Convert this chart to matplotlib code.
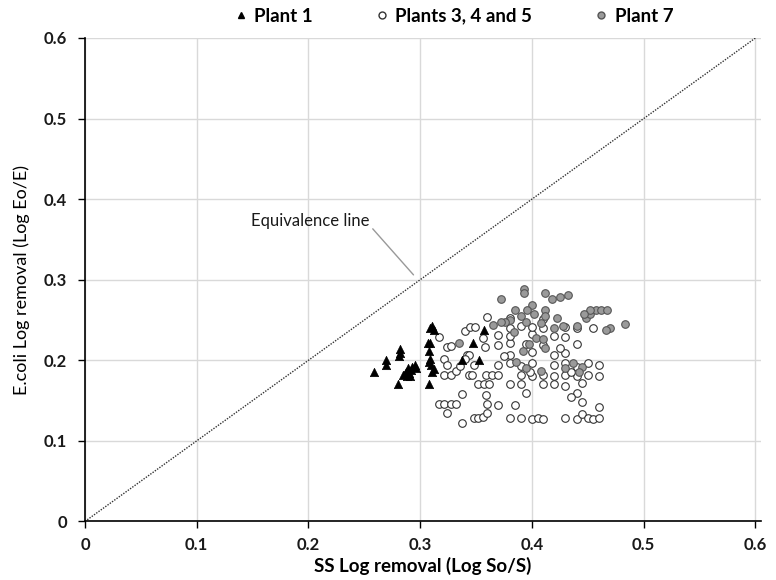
import matplotlib
matplotlib.use("Agg")
import matplotlib.pyplot as plt
from matplotlib.lines import Line2D

plt.rcParams['font.family'] = ['Lato', 'DejaVu Sans']

# Plant 1 (black triangles)
p1_x = [0.259, 0.269, 0.269, 0.282, 0.282, 0.281, 0.280, 0.285, 0.287, 0.289, 0.290,
        0.291, 0.292, 0.293, 0.295, 0.296, 0.288, 0.286, 0.308, 0.309, 0.311, 0.312,
        0.307, 0.309, 0.308, 0.308, 0.310, 0.312, 0.311, 0.309, 0.357, 0.347, 0.353, 0.337]
p1_y = [0.185, 0.200, 0.194, 0.214, 0.209, 0.205, 0.170, 0.182, 0.186, 0.190, 0.184,
        0.181, 0.188, 0.192, 0.194, 0.191, 0.180, 0.183, 0.170, 0.240, 0.242, 0.238,
        0.221, 0.222, 0.211, 0.198, 0.194, 0.189, 0.185, 0.201, 0.238, 0.222, 0.200, 0.200]

# Plants 3, 4 and 5 (open circles)
p345_x = [0.360, 0.340, 0.345, 0.349, 0.317, 0.324, 0.328, 0.356, 0.358, 0.342, 0.344,
          0.340, 0.321, 0.324, 0.321, 0.328, 0.332, 0.336, 0.344, 0.346, 0.348, 0.352,
          0.359, 0.364, 0.357, 0.362, 0.359, 0.337, 0.317, 0.321, 0.328, 0.332, 0.324,
          0.348, 0.352, 0.356, 0.360, 0.337, 0.360,
          0.380, 0.390, 0.400, 0.405, 0.410, 0.430, 0.440, 0.445, 0.450, 0.455, 0.460,
          0.370, 0.385, 0.460, 0.445, 0.395, 0.440, 0.435,
          0.380, 0.390, 0.410, 0.420, 0.430, 0.445,
          0.370, 0.390, 0.400, 0.410, 0.420, 0.430, 0.440, 0.450, 0.460,
          0.370, 0.380, 0.390, 0.400, 0.420, 0.430, 0.440, 0.450, 0.460,
          0.380, 0.400, 0.420, 0.430,
          0.370, 0.380, 0.395, 0.410, 0.440,
          0.370, 0.380, 0.400, 0.420, 0.430,
          0.380, 0.390, 0.400, 0.410, 0.430, 0.440,
          0.380, 0.410, 0.455, 0.398, 0.375, 0.425, 0.435]
p345_y = [0.254, 0.236, 0.241, 0.241, 0.229, 0.217, 0.218, 0.228, 0.217, 0.206, 0.206,
          0.201, 0.201, 0.194, 0.182, 0.182, 0.187, 0.193, 0.182, 0.182, 0.194, 0.170,
          0.182, 0.182, 0.170, 0.170, 0.157, 0.158, 0.146, 0.146, 0.146, 0.146, 0.134,
          0.128, 0.128, 0.130, 0.134, 0.122, 0.146,
          0.128, 0.128, 0.127, 0.128, 0.127, 0.128, 0.127, 0.133, 0.128, 0.127, 0.128,
          0.145, 0.145, 0.142, 0.148, 0.160, 0.160, 0.155,
          0.170, 0.170, 0.170, 0.170, 0.168, 0.172,
          0.182, 0.182, 0.180, 0.182, 0.181, 0.182, 0.180, 0.182, 0.181,
          0.194, 0.196, 0.193, 0.197, 0.194, 0.196, 0.192, 0.197, 0.194,
          0.206, 0.210, 0.207, 0.209,
          0.219, 0.221, 0.220, 0.219, 0.220,
          0.231, 0.230, 0.232, 0.230, 0.229,
          0.240, 0.242, 0.241, 0.240, 0.241, 0.240,
          0.252, 0.251, 0.240, 0.185, 0.205, 0.215, 0.185]

# Plant 7 (grey circles)
p7_x = [0.393, 0.393, 0.372, 0.418, 0.425, 0.432, 0.412, 0.400, 0.396, 0.402, 0.385,
        0.390, 0.380, 0.376, 0.372, 0.365, 0.384, 0.395, 0.412, 0.412, 0.422, 0.408,
        0.420, 0.428, 0.448, 0.452, 0.457, 0.462, 0.467, 0.452, 0.447, 0.483, 0.470,
        0.466, 0.440, 0.437, 0.445, 0.404, 0.410, 0.397, 0.392, 0.386, 0.395, 0.412,
        0.335, 0.430, 0.442, 0.408]
p7_y = [0.288, 0.284, 0.276, 0.276, 0.279, 0.281, 0.283, 0.269, 0.263, 0.258, 0.262,
        0.255, 0.250, 0.248, 0.247, 0.244, 0.235, 0.248, 0.262, 0.255, 0.252, 0.246,
        0.240, 0.243, 0.253, 0.258, 0.262, 0.263, 0.263, 0.263, 0.257, 0.245, 0.240,
        0.237, 0.242, 0.196, 0.192, 0.228, 0.226, 0.220, 0.212, 0.198, 0.190, 0.215,
        0.222, 0.190, 0.185, 0.187]

ticks = [0, 0.1, 0.2, 0.3, 0.4, 0.5, 0.6]
tick_labels = ['0', '0.1', '0.2', '0.3', '0.4', '0.5', '0.6']
series_names = ['Plant 1', 'Plants 3, 4 and 5', 'Plant 7']

fig = plt.figure(figsize=(7.76, 5.8), dpi=100)
ax = fig.add_axes([0.1095, 0.101, 0.8712, 0.8335])

ax.plot([0, 0.6], [0, 0.6], linestyle=(0, (1, 1)), color='#333333', lw=1.0, zorder=2)

ax.scatter(p345_x, p345_y, marker='o', s=30, facecolor='white', edgecolor='#333333',
           linewidths=0.8, zorder=3)
ax.scatter(p7_x, p7_y, marker='o', s=30, facecolor='#9a9a9a', edgecolor='#555555',
           linewidths=0.8, zorder=4)
ax.scatter(p1_x, p1_y, marker='^', s=36, facecolor='black', edgecolor='black',
           linewidths=0.5, zorder=5)

ax.annotate('Equivalence line', xy=(0.294, 0.306), xytext=(0.149, 0.373),
            fontsize=12, color='#1a1a1a', va='center', ha='left',
            arrowprops=dict(arrowstyle='-', color='#999999', lw=1.0,
                            shrinkA=0, shrinkB=0, relpos=(1.0, 0.2)))

ax.set_xlim(0, 0.605)
ax.set_ylim(0, 0.6)
ax.set_xticks(ticks)
ax.set_xticklabels(tick_labels)
ax.set_yticks(ticks)
ax.set_yticklabels(tick_labels)
ax.grid(True, color='#d9d9d9', lw=1.0)
ax.set_axisbelow(True)
for s in ['top', 'right']:
    ax.spines[s].set_visible(False)
for s in ['left', 'bottom']:
    ax.spines[s].set_color('black')
    ax.spines[s].set_linewidth(1.2)
ax.tick_params(direction='out', length=5, width=1.0, labelsize=12, pad=6)
ax.tick_params(axis='y', pad=8)
for lab in ax.get_xticklabels() + ax.get_yticklabels():
    lab.set_fontweight('bold')
    lab.set_color('#1a1a1a')

ax.set_xlabel('SS Log removal (Log So/S)', fontsize=13.5, fontweight='bold', labelpad=3)
ax.set_ylabel('E.coli Log removal (Log Eo/E)', fontsize=13, labelpad=10)

handles = [
    Line2D([], [], marker='^', ls='', color='black', markersize=5),
    Line2D([], [], marker='o', ls='', markerfacecolor='white', markeredgecolor='#333333',
           markersize=5),
    Line2D([], [], marker='o', ls='', markerfacecolor='#9a9a9a', markeredgecolor='#555555',
           markersize=5),
]
leg = fig.legend(handles, series_names, loc='center', bbox_to_anchor=(0.583, 0.972),
                 ncol=3, frameon=False, handletextpad=0.2, columnspacing=3.2,
                 prop={'weight': 'bold', 'size': 13.5}, handlelength=1.0)

fig.savefig('out.png', dpi=100)
